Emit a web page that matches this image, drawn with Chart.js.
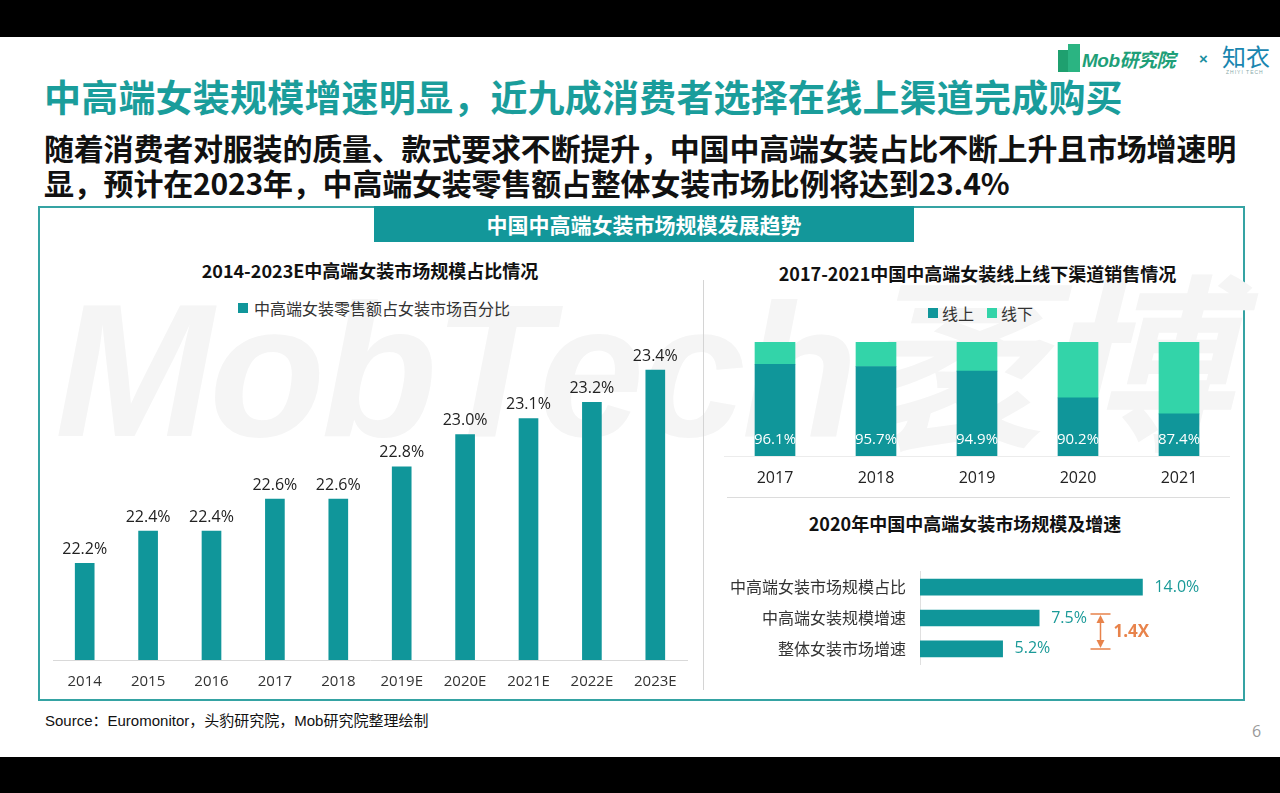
<!DOCTYPE html>
<html>
<head>
<meta charset="utf-8">
<script src="https://cdn.jsdelivr.net/npm/chart.js@4.4.0/dist/chart.umd.min.js"></script>
<style>
  html, body { margin: 0; padding: 0; background: #000; }
  #page { position: relative; width: 1280px; height: 793px; background: #000; overflow: hidden; font-family: "Noto Sans CJK SC", sans-serif; }
  #slide { position: absolute; left: 0; top: 37px; width: 1280px; height: 720px; background: #fff; }
  .abs { position: absolute; white-space: nowrap; }
  canvas { position: absolute; }
</style>
</head>
<body>
<div id="page">
  <div id="slide"></div>

  <!-- logo -->
  <div class="abs" style="left:1058px;top:50px;width:10px;height:22px;background:#1fa06f;"></div>
  <div class="abs" style="left:1068px;top:44px;width:12px;height:28px;background:#2bb482;"></div>
  <div class="abs" style="left:1082px;top:45px;font:italic 700 19px 'Liberation Sans','Noto Sans CJK SC';color:#1e9f78;letter-spacing:-0.5px;">Mob研究院</div>
  <div class="abs" style="left:1199px;top:50px;font:700 15px 'Liberation Sans';color:#1a8fa0;">×</div>
  <div class="abs" style="left:1222px;top:42px;font:400 24px 'Noto Sans CJK SC';color:#1a86b0;line-height:28px;">知衣</div>
  <div class="abs" style="left:1226px;top:69px;font:400 5px 'Liberation Sans';color:#8aa;letter-spacing:1px;">ZHIYI TECH</div>

  <!-- headline -->
  <div class="abs" style="left:44px;top:74px;font:700 37px/44px 'Noto Sans CJK SC';color:#1a9d9b;letter-spacing:0.2px;">中高端女装规模增速明显，近九成消费者选择在线上渠道完成购买</div>
  <div class="abs" style="left:44px;top:130px;font:700 30px/35px 'Noto Sans CJK SC';color:#111;letter-spacing:-0.2px;">随着消费者对服装的质量、款式要求不断提升，中国中高端女装占比不断上升且市场增速明<br>显，预计在2023年，中高端女装零售额占整体女装市场比例将达到23.4%</div>

  <!-- frame -->
  <div class="abs" style="left:38px;top:206px;width:1203px;height:491px;border:2px solid #35a3a3;"></div>
  <div class="abs" style="left:55px;top:270px;font:italic 700 190px/200px 'Liberation Sans','Noto Sans CJK SC';color:#f5f5f5;letter-spacing:-4px;">MobTech袤博</div>
  <div class="abs" style="left:374px;top:206px;width:540px;height:36px;background:#13979a;"></div>
  <div class="abs" style="left:374px;top:206px;width:540px;height:36px;line-height:36px;text-align:center;font:700 21px/36px 'Noto Sans CJK SC';color:#fff;">中国中高端女装市场规模发展趋势</div>

  <!-- separators -->
  <div class="abs" style="left:703px;top:280px;width:1px;height:410px;background:#d4d4d4;"></div>
  <div class="abs" style="left:727px;top:497px;width:503px;height:1px;background:#dcdcdc;"></div>

  <!-- chart titles and legends -->
  <div class="abs" style="left:45px;top:258px;width:650px;text-align:center;font:700 18px/24px 'Noto Sans CJK SC';color:#111;">2014-2023E中高端女装市场规模占比情况</div>
  <div class="abs" style="left:238px;top:303px;width:10px;height:10px;background:#10969a;"></div>
  <div class="abs" style="left:254px;top:297px;font:400 16px/22px 'Noto Sans CJK SC';color:#333;">中高端女装零售额占女装市场百分比</div>

  <div class="abs" style="left:720px;top:261px;width:515px;text-align:center;font:700 18px/24px 'Noto Sans CJK SC';color:#111;">2017-2021中国中高端女装线上线下渠道销售情况</div>
  <div class="abs" style="left:928px;top:308px;width:10px;height:10px;background:#10969a;"></div>
  <div class="abs" style="left:942px;top:302px;font:400 16px/22px 'Noto Sans CJK SC';color:#333;">线上</div>
  <div class="abs" style="left:987px;top:308px;width:10px;height:10px;background:#33d4a9;"></div>
  <div class="abs" style="left:1001px;top:302px;font:400 16px/22px 'Noto Sans CJK SC';color:#333;">线下</div>

  <div class="abs" style="left:720px;top:511px;width:490px;text-align:center;font:700 18px/24px 'Noto Sans CJK SC';color:#111;">2020年中国中高端女装市场规模及增速</div>

  <canvas id="shareChart" width="650" height="368" style="left:45px;top:330px;"></canvas>
  <canvas id="channelChart" width="515" height="166" style="left:720px;top:330px;"></canvas>
  <canvas id="growthChart" width="530" height="140" style="left:700px;top:548px;"></canvas>

  <div class="abs" style="left:45px;top:711px;font:400 15px/20px 'Liberation Sans','Noto Sans CJK SC';color:#111;">Source：Euromonitor，头豹研究院，Mob研究院整理绘制</div>
  <div class="abs" style="left:1252px;top:720px;font:400 16px/22px 'Open Sans';color:#9a9a9a;">6</div>
</div>

<script>
const years = ['2014', '2015', '2016', '2017', '2018', '2019E', '2020E', '2021E', '2022E', '2023E'];
const shareValues = [22.2, 22.4, 22.4, 22.6, 22.6, 22.8, 23.0, 23.1, 23.2, 23.4];

const channelYears = ['2017', '2018', '2019', '2020', '2021'];
const onlineShare = [96.1, 95.7, 94.9, 90.2, 87.4];
const offlineShare = [3.9, 4.3, 5.1, 9.8, 12.6];

const growthLabels = ['中高端女装市场规模占比', '中高端女装规模增速', '整体女装市场增速'];
const growthValues = [14.0, 7.5, 5.2];

const teal = '#10969a';
const mint = '#33d4a9';
const orange = '#e8834b';
const numFont = '"Open Sans", "Noto Sans CJK SC", sans-serif';

Chart.defaults.font.family = numFont;
Chart.defaults.color = '#333';

function pct(v) { return v.toFixed(1) + '%'; }

// etiquetas encima de cada barra
const shareLabels = {
  id: 'shareLabels',
  afterDatasetsDraw(chart) {
    const ctx = chart.ctx;
    const meta = chart.getDatasetMeta(0);
    ctx.save();
    ctx.font = '16px ' + numFont;
    ctx.fillStyle = '#222';
    ctx.textAlign = 'center';
    ctx.textBaseline = 'bottom';
    meta.data.forEach((bar, i) => {
      ctx.fillText(pct(shareValues[i]), bar.x, bar.y - 6);
    });
    ctx.restore();
  }
};

new Chart(document.getElementById('shareChart'), {
  type: 'bar',
  data: {
    labels: years,
    datasets: [{ data: shareValues, backgroundColor: teal, barThickness: 19 }]
  },
  options: {
    responsive: false,
    animation: false,
    layout: { padding: { left: 8, right: 8, top: 8, bottom: 8 } },
    plugins: { legend: { display: false }, tooltip: { enabled: false } },
    scales: {
      x: {
        grid: { display: false, drawTicks: false },
        border: { display: true, color: '#d9d9d9', width: 1 },
        ticks: { padding: 13, color: '#333', font: { size: 15 } },
        afterFit(scale) { scale.height = 30; }
      },
      y: { display: false, min: 21.6, max: 23.6 }
    }
  },
  plugins: [shareLabels]
});

// porcentajes en blanco dentro de la parte online
const channelLabels = {
  id: 'channelLabels',
  afterDatasetsDraw(chart) {
    const ctx = chart.ctx;
    const meta = chart.getDatasetMeta(0);
    ctx.save();
    ctx.font = '15px ' + numFont;
    ctx.fillStyle = '#fff';
    ctx.textAlign = 'center';
    ctx.textBaseline = 'middle';
    meta.data.forEach((bar, i) => {
      ctx.fillText(pct(onlineShare[i]), bar.x, chart.chartArea.bottom - 16);
    });
    ctx.restore();
  }
};

new Chart(document.getElementById('channelChart'), {
  type: 'bar',
  data: {
    labels: channelYears,
    datasets: [
      { label: '线上', data: onlineShare, backgroundColor: teal, barThickness: 40 },
      { label: '线下', data: offlineShare, backgroundColor: mint, barThickness: 40 }
    ]
  },
  options: {
    responsive: false,
    animation: false,
    layout: { padding: { left: 4.5, right: 5.5, top: 12, bottom: 0 } },
    plugins: { legend: { display: false }, tooltip: { enabled: false } },
    scales: {
      x: {
        stacked: true,
        grid: { display: false, drawTicks: false },
        border: { display: true, color: '#ececec', width: 1 },
        ticks: { padding: 13, color: '#222', font: { size: 16 } },
        afterFit(scale) { scale.height = 40; }
      },
      y: { display: false, stacked: true, min: 80, max: 100 }
    }
  },
  plugins: [channelLabels]
});

// valores y la flecha 1.4X
const growthLabelsPlugin = {
  id: 'growthLabels',
  afterDatasetsDraw(chart) {
    const ctx = chart.ctx;
    const meta = chart.getDatasetMeta(0);
    const xs = chart.scales.x;
    const ys = chart.scales.y;
    ctx.save();
    ctx.font = '16px ' + numFont;
    ctx.fillStyle = '#1a9a98';
    ctx.textAlign = 'left';
    ctx.textBaseline = 'middle';
    meta.data.forEach((bar, i) => {
      ctx.fillText(pct(growthValues[i]), bar.x + 12, bar.y);
    });

    const ax = Math.round(xs.getPixelForValue(11.3)) + 0.5;
    const top = ys.getPixelForValue(1) - 4;
    const bot = ys.getPixelForValue(2);
    ctx.strokeStyle = orange;
    ctx.fillStyle = orange;
    ctx.lineWidth = 1.5;
    ctx.beginPath();
    ctx.moveTo(ax - 10, top); ctx.lineTo(ax + 10, top);
    ctx.moveTo(ax - 10, bot); ctx.lineTo(ax + 10, bot);
    ctx.moveTo(ax, top + 6); ctx.lineTo(ax, bot - 6);
    ctx.stroke();
    ctx.beginPath();
    ctx.moveTo(ax, top + 1); ctx.lineTo(ax - 4, top + 9); ctx.lineTo(ax + 4, top + 9); ctx.closePath();
    ctx.moveTo(ax, bot - 1); ctx.lineTo(ax - 4, bot - 9); ctx.lineTo(ax + 4, bot - 9); ctx.closePath();
    ctx.fill();
    ctx.font = 'bold 17px ' + numFont;
    ctx.fillText('1.4X', ax + 13, (top + bot) / 2 + 1);
    ctx.restore();
  }
};

new Chart(document.getElementById('growthChart'), {
  type: 'bar',
  data: {
    labels: growthLabels,
    datasets: [{ data: growthValues, backgroundColor: teal, barThickness: 16 }]
  },
  options: {
    indexAxis: 'y',
    responsive: false,
    animation: false,
    layout: { padding: { left: 0, right: 24, top: 10, bottom: 10 } },
    plugins: { legend: { display: false }, tooltip: { enabled: false } },
    scales: {
      x: { display: false, min: 0, max: 18 },
      y: {
        grid: { display: false, drawTicks: false },
        border: { display: true, color: '#e0e0e0', width: 1 },
        ticks: { padding: 14, color: '#333', font: { size: 16, family: '"Noto Sans CJK SC", sans-serif' } },
        afterFit(scale) { scale.width = 220; }
      }
    }
  },
  plugins: [growthLabelsPlugin]
});
</script>
</body>
</html>
